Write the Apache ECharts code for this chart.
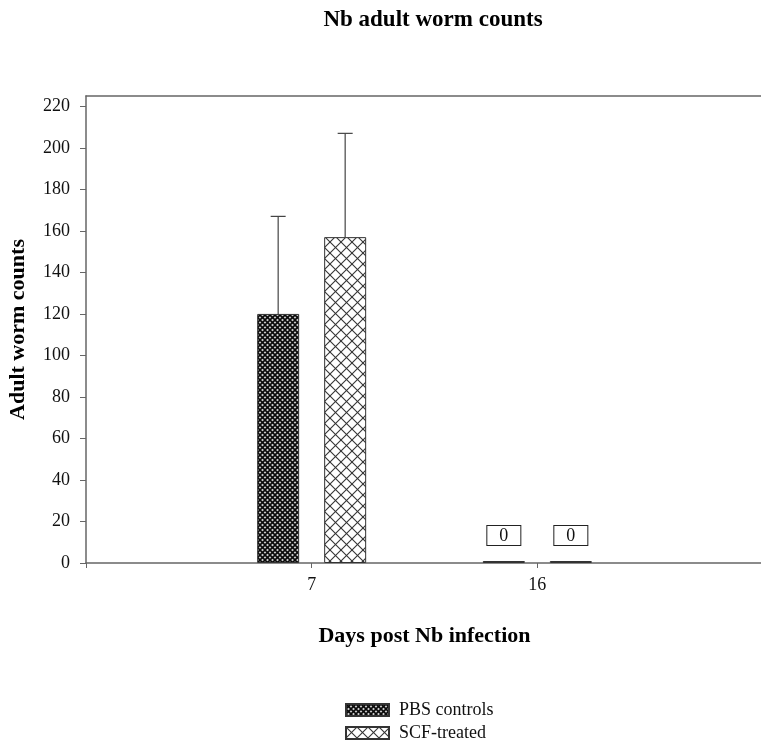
<!DOCTYPE html>
<html>
<head>
<meta charset="utf-8">
<script src="https://cdn.jsdelivr.net/npm/echarts@6/dist/echarts.min.js"></script>
<style>html,body{margin:0;padding:0;background:#fff}#c{width:761px;height:748px}</style>
</head>
<body>
<div id="c"></div>
<script>
// ---- data ----
const categories = ['7', '16'];
const seriesNames = ['PBS controls', 'SCF-treated'];
const pbsMeans = [120, 0];
const pbsUpper = [167, null];
const scfMeans = [157, 0];
const scfUpper = [207, null];
const yTicks = [0, 20, 40, 60, 80, 100, 120, 140, 160, 180, 200, 220];

// ---- patterns ----
function hatch(size, bg, fg, lw) {
  const c = document.createElement('canvas');
  c.width = size; c.height = size;
  const g = c.getContext('2d');
  g.fillStyle = bg; g.fillRect(0, 0, size, size);
  g.strokeStyle = fg; g.lineWidth = lw;
  for (let o = -size; o <= size; o += size) {
    g.beginPath(); g.moveTo(o, 0); g.lineTo(o + size, size); g.stroke();
    g.beginPath(); g.moveTo(o + size, 0); g.lineTo(o, size); g.stroke();
  }
  return c;
}
const pbsFill = { image: hatch(5, '#d0d0d0', '#0a0a0a', 1.6), repeat: 'repeat' };
const scfFill = { image: hatch(11, '#ffffff', '#333333', 1.1), repeat: 'repeat' };

// padded category axis: empty slots at both ends
const axisCats = [''].concat(categories, ['']);
const FONT = 'Liberation Serif';
const BAR_W = 42, GAP = 25;
const offsets = [-(BAR_W + GAP) / 2, (BAR_W + GAP) / 2];

function barData(means) {
  return ['-'].concat(means.map(v => ({ value: v, label: { show: v === 0 } })), ['-']);
}
function errData(means, upper) {
  const out = [];
  means.forEach((m, i) => { if (upper[i] != null) out.push([i + 1, upper[i], m]); });
  return out;
}
function errSeries(means, upper, k) {
  return {
    type: 'custom', z: 5, silent: true,
    data: errData(means, upper),
    encode: { x: 0, y: [1, 2] },
    renderItem: function (params, api) {
      const top = api.coord([api.value(0), api.value(1)]);
      const base = api.coord([api.value(0), api.value(2)]);
      const x = base[0] + offsets[k];
      const st = { stroke: '#444', lineWidth: 1.2 };
      return { type: 'group', children: [
        { type: 'line', shape: { x1: x, y1: base[1], x2: x, y2: top[1] }, style: st },
        { type: 'line', shape: { x1: x - 7.5, y1: top[1], x2: x + 7.5, y2: top[1] }, style: st }
      ]};
    }
  };
}
const zeroLabel = {
  position: 'top', distance: 16, formatter: '{c}',
  fontFamily: FONT, fontSize: 18, color: '#111', lineHeight: 18,
  borderColor: '#222', borderWidth: 1, padding: [1, 12, 0, 12], backgroundColor: '#fff'
};

const chart = echarts.init(document.getElementById('c'));
chart.setOption({
  animation: false,
  backgroundColor: '#fff',
  title: {
    text: 'Nb adult worm counts', left: 428, top: 4, textAlign: 'center',
    textStyle: { fontFamily: FONT, fontSize: 23, fontWeight: 'bold', color: '#000' }
  },
  grid: { left: 86, right: -2, top: 96, bottom: 185, outerBoundsMode: 'none', containLabel: false },
  legend: {
    orient: 'vertical', left: 345, top: 701, padding: 0, itemWidth: 43, itemHeight: 12, itemGap: 5,
    icon: 'rect',
    data: seriesNames,
    textStyle: { fontFamily: FONT, fontSize: 18, color: '#111', padding: [0, 0, 0, 5] }
  },
  xAxis: [{
    type: 'category', data: axisCats, boundaryGap: false,
    name: 'Days post Nb infection', nameLocation: 'middle', nameGap: 62,
    nameTextStyle: { fontFamily: FONT, fontSize: 22, fontWeight: 'bold', color: '#000' },
    axisLine: { lineStyle: { color: '#666', width: 1.5 } },
    axisTick: { length: 5, lineStyle: { color: '#666' } },
    axisLabel: { fontFamily: FONT, fontSize: 18, color: '#111', margin: 13 },
    splitLine: { show: false }
  }, {
    type: 'category', data: axisCats, boundaryGap: false, position: 'top',
    axisLine: { show: true, lineStyle: { color: '#666', width: 1.5 } },
    axisTick: { show: false }, axisLabel: { show: false }, splitLine: { show: false }
  }],
  yAxis: {
    type: 'value', min: 0, max: 225,
    name: 'Adult worm counts', nameLocation: 'middle', nameGap: 57,
    nameTextStyle: { fontFamily: FONT, fontSize: 22, fontWeight: 'bold', color: '#000' },
    axisLine: { show: true, lineStyle: { color: '#666', width: 1.5 } },
    axisTick: { show: true, length: 6, customValues: yTicks, lineStyle: { color: '#666' } },
    axisLabel: { fontFamily: FONT, fontSize: 18, color: '#111', margin: 16, customValues: yTicks },
    splitLine: { show: false }
  },
  series: [
    { name: seriesNames[0], type: 'bar', barWidth: BAR_W, barGap: (GAP / BAR_W * 100) + '%', barMinHeight: 2,
      itemStyle: { color: pbsFill, borderColor: '#333', borderWidth: 1 },
      label: zeroLabel, data: barData(pbsMeans) },
    { name: seriesNames[1], type: 'bar', barWidth: BAR_W, barMinHeight: 2,
      itemStyle: { color: scfFill, borderColor: '#333', borderWidth: 1 },
      label: zeroLabel, data: barData(scfMeans) },
    errSeries(pbsMeans, pbsUpper, 0),
    errSeries(scfMeans, scfUpper, 1)
  ]
});
</script>
</body>
</html>
